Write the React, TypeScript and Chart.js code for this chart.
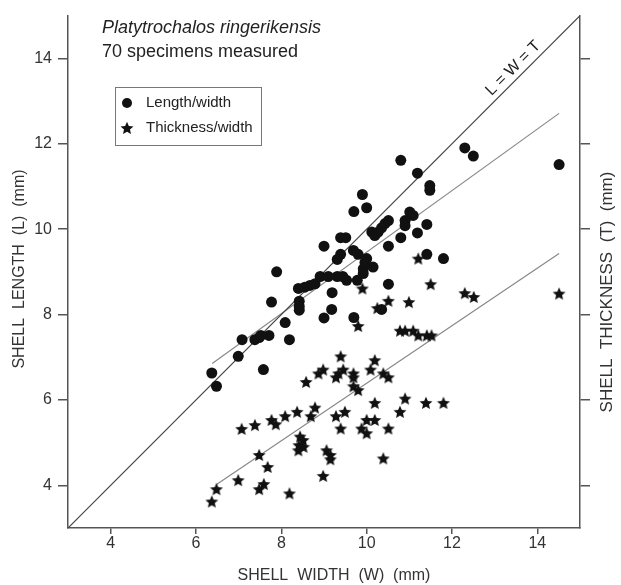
import React, { useEffect, useRef } from "react";
import { Chart, registerables } from "chart.js";
Chart.register(...registerables);

const FONT = '"Liberation Sans", Arial, Helvetica, sans-serif';

// Length / width (circles)
const lenW = [6.37, 6.48, 6.99, 7.08, 7.38, 7.48, 7.52, 7.71, 7.58, 8.19, 8.09, 7.77, 7.89, 8.42, 8.42, 8.42, 8.40, 8.55, 8.67, 8.79, 8.91, 9.10, 9.31, 9.44, 9.53, 9.00, 9.19, 9.18, 9.00, 9.70, 9.39, 9.51, 9.39, 9.31, 9.69, 9.80, 9.78, 10.0, 9.92, 9.92, 9.96, 10.15, 9.70, 9.90, 10.0, 10.12, 10.19, 10.27, 10.35, 10.43, 10.51, 10.51, 10.51, 10.35, 10.80, 10.80, 10.90, 10.90, 11.01, 11.09, 11.19, 11.19, 11.41, 11.41, 11.48, 11.48, 11.80, 12.30, 12.50, 14.51];
const lenL = [6.63, 6.32, 7.02, 7.41, 7.41, 7.46, 7.51, 7.51, 6.71, 7.41, 7.81, 8.29, 9.00, 8.31, 8.19, 8.10, 8.61, 8.64, 8.68, 8.72, 8.89, 8.89, 8.89, 8.89, 8.80, 9.60, 8.51, 8.12, 7.92, 7.93, 9.80, 9.80, 9.41, 9.29, 9.50, 9.41, 8.80, 9.31, 9.07, 8.96, 9.22, 9.11, 10.41, 10.81, 10.50, 9.93, 9.85, 9.93, 10.03, 10.13, 10.20, 9.60, 8.71, 8.12, 9.80, 11.61, 10.20, 10.08, 10.40, 10.32, 11.31, 9.91, 10.11, 9.41, 11.02, 10.91, 9.31, 11.90, 11.71, 11.51];

// Thickness / width (stars)
const thkW = [6.37, 6.48, 6.99, 7.48, 7.59, 8.19, 7.68, 7.48, 7.07, 7.38, 7.77, 7.87, 8.09, 8.37, 8.69, 8.79, 8.44, 8.51, 8.41, 8.52, 8.40, 8.98, 9.06, 9.15, 9.15, 8.58, 8.87, 8.98, 9.80, 10.78, 10.90, 11.09, 11.21, 11.41, 11.52, 9.39, 10.19, 9.45, 9.34, 9.28, 9.69, 9.69, 10.09, 10.39, 10.51, 9.69, 9.80, 10.19, 10.90, 10.78, 11.39, 11.80, 9.49, 9.28, 9.39, 10.00, 10.19, 9.88, 10.00, 10.51, 10.39, 11.21, 11.50, 12.30, 12.51, 14.51, 10.51, 10.99, 10.25, 9.90];
const thkT = [3.62, 3.91, 4.12, 3.91, 4.03, 3.81, 4.43, 4.71, 5.32, 5.41, 5.53, 5.43, 5.62, 5.72, 5.62, 5.82, 5.14, 5.06, 4.94, 4.90, 4.82, 4.22, 4.82, 4.71, 4.61, 6.42, 6.62, 6.71, 7.73, 7.62, 7.62, 7.62, 7.51, 7.51, 7.51, 7.02, 6.93, 6.71, 6.62, 6.53, 6.62, 6.53, 6.71, 6.62, 6.53, 6.32, 6.23, 5.93, 6.03, 5.72, 5.93, 5.93, 5.72, 5.62, 5.33, 5.53, 5.53, 5.33, 5.22, 5.33, 4.63, 9.31, 8.71, 8.50, 8.41, 8.49, 8.32, 8.29, 8.15, 8.61];

// Reference and fitted lines (endpoints)
const diagX = [3, 15];
const diagY = [3, 15];
const fitLenX = [6.38, 14.51];
const fitLenY = [6.85, 12.71];
const fitThkX = [6.48, 14.51];
const fitThkY = [4.02, 9.43];

const axisTicks = [4, 6, 8, 10, 12, 14];
const axisMin = 3;
const axisMax = 15;

function makeStar(size: number, color: string) {
  const c = document.createElement("canvas");
  c.width = size;
  c.height = size;
  const g = c.getContext("2d")!;
  const cx = size / 2, cy = size / 2 + 0.6;
  const R = size / 2 - 0.2, r = R * 0.46;
  g.beginPath();
  for (let i = 0; i < 10; i++) {
    const rad = i % 2 === 0 ? R : r;
    const a = -Math.PI / 2 + (i * Math.PI) / 5;
    const px = cx + rad * Math.cos(a), py = cy + rad * Math.sin(a);
    if (i === 0) g.moveTo(px, py); else g.lineTo(px, py);
  }
  g.closePath();
  g.fillStyle = color;
  g.fill();
  return c;
}

const pts = (xs: number[], ys: number[]) => xs.map((x, i) => ({ x, y: ys[i] }));

export default function App() {
  const ref = useRef<HTMLCanvasElement | null>(null);
  useEffect(() => {
    if (!ref.current) return;
    const star = makeStar(14, "#111");
    const textPlugin = {
      id: "texts",
      afterDraw(chart: any) {
        const ctx = chart.ctx as CanvasRenderingContext2D;
        const xs = chart.scales.x, ys = chart.scales.y;
        ctx.save();
        ctx.fillStyle = "#222";
        ctx.textAlign = "left";
        ctx.textBaseline = "alphabetic";
        ctx.font = `italic 18px ${FONT}`;
        ctx.fillText("Platytrochalos ringerikensis", 102, 33);
        ctx.font = `18px ${FONT}`;
        ctx.fillText("70 specimens measured", 102, 57);

        // legend
        ctx.strokeStyle = "#777";
        ctx.lineWidth = 1;
        ctx.strokeRect(115.5, 87.5, 146, 58);
        ctx.fillStyle = "#111";
        ctx.beginPath();
        ctx.arc(127, 103, 5, 0, Math.PI * 2);
        ctx.fill();
        ctx.drawImage(star, 127 - star.width / 2, 128 - star.height / 2);
        ctx.fillStyle = "#222";
        ctx.font = `15px ${FONT}`;
        ctx.textBaseline = "middle";
        ctx.fillText("Length/width", 146, 103);
        ctx.fillText("Thickness/width", 146, 128);

        // L = W = T label along the diagonal
        const p0x = xs.getPixelForValue(3), p0y = ys.getPixelForValue(3);
        const p1x = xs.getPixelForValue(15), p1y = ys.getPixelForValue(15);
        const ang = Math.atan2(p1y - p0y, p1x - p0x);
        ctx.save();
        ctx.translate(xs.getPixelForValue(13.6), ys.getPixelForValue(13.6));
        ctx.rotate(ang);
        ctx.textAlign = "center";
        ctx.font = `16px ${FONT}`;
        ctx.fillText("L = W = T", 0, -10);
        ctx.restore();

        // axis titles
        ctx.fillStyle = "#333";
        ctx.font = `16px ${FONT}`;
        ctx.textAlign = "center";
        ctx.fillText("SHELL  WIDTH  (W)  (mm)", 334, 576);
        ctx.save();
        ctx.translate(20, 269);
        ctx.rotate(-Math.PI / 2);
        ctx.fillText("SHELL  LENGTH  (L)  (mm)", 0, 0);
        ctx.restore();
        ctx.save();
        ctx.translate(607, 292);
        ctx.rotate(-Math.PI / 2);
        ctx.font = `17px ${FONT}`;
        ctx.fillText("SHELL  THICKNESS  (T)  (mm)", 0, 0);
        ctx.restore();
        ctx.restore();
      },
    };

    const setTicks = (scale: any) => {
      scale.ticks = axisTicks.map((v) => ({ value: v }));
    };
    const axisColor = "#555";

    const chart = new Chart(ref.current, {
      type: "scatter",
      data: {
        datasets: [
          {
            label: "Length/width",
            data: pts(lenW, lenL),
            pointStyle: "circle",
            pointRadius: 5.5,
            backgroundColor: "#111",
            borderColor: "#111",
            borderWidth: 0,
          },
          {
            label: "Thickness/width",
            data: pts(thkW, thkT),
            pointStyle: star as any,
            pointRadius: 7,
            backgroundColor: "#111",
            borderColor: "#111",
          },
          {
            label: "L = W = T",
            data: pts(diagX, diagY),
            showLine: true,
            pointRadius: 0,
            borderColor: "#444",
            borderWidth: 1.2,
          },
          {
            label: "fit L",
            data: pts(fitLenX, fitLenY),
            showLine: true,
            pointRadius: 0,
            borderColor: "#888",
            borderWidth: 1.2,
          },
          {
            label: "fit T",
            data: pts(fitThkX, fitThkY),
            showLine: true,
            pointRadius: 0,
            borderColor: "#888",
            borderWidth: 1.2,
          },
        ],
      },
      options: {
        responsive: false,
        animation: false,
        events: [],
        layout: { padding: { top: 15, left: 0, right: 0, bottom: 0 } },
        plugins: { legend: { display: false }, tooltip: { enabled: false } },
        scales: {
          x: {
            type: "linear",
            position: "bottom",
            min: axisMin,
            max: axisMax,
            afterBuildTicks: setTicks,
            afterFit: (s: any) => { s.height = 57; },
            grid: { display: true, drawOnChartArea: false, drawTicks: true, tickLength: 6, color: axisColor, lineWidth: 1.5 },
            border: { display: true, color: axisColor, width: 1.5 },
            ticks: { color: "#333", font: { family: FONT, size: 16 }, padding: 0, autoSkip: false, maxRotation: 0 },
          },
          y: {
            type: "linear",
            position: "left",
            min: axisMin,
            max: axisMax,
            afterBuildTicks: setTicks,
            afterFit: (s: any) => { s.width = 68; },
            grid: { display: true, drawOnChartArea: false, drawTicks: true, tickLength: 10, color: axisColor, lineWidth: 1.5 },
            border: { display: true, color: axisColor, width: 1.5 },
            ticks: { color: "#333", font: { family: FONT, size: 16 }, padding: 6, autoSkip: false },
          },
          y2: {
            type: "linear",
            position: "right",
            min: axisMin,
            max: axisMax,
            afterBuildTicks: setTicks,
            afterFit: (s: any) => { s.width = 41; },
            grid: { display: true, drawOnChartArea: false, drawTicks: true, tickLength: 10, color: axisColor, lineWidth: 1.5 },
            border: { display: true, color: axisColor, width: 1.5 },
            ticks: { display: true, callback: () => "", autoSkip: false },
          },
        },
      },
      plugins: [textPlugin],
    } as any);
    return () => chart.destroy();
  }, []);

  return (
    <div style={{ position: "absolute", left: 0, top: 0, width: 621, height: 585, background: "#fff" }}>
      <canvas ref={ref} width={621} height={585} style={{ display: "block" }} />
    </div>
  );
}
